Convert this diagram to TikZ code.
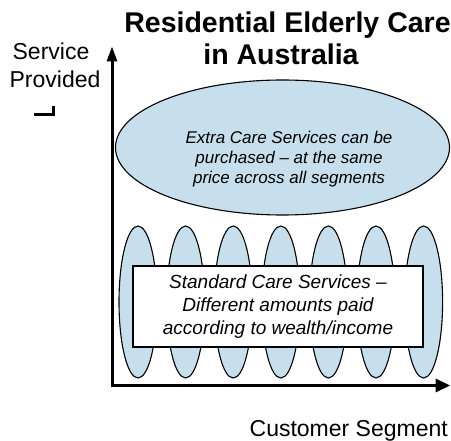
\documentclass[tikz,border=0pt]{standalone}
\usepackage{fontspec}
\setmainfont{Liberation Sans}
\usetikzlibrary{shapes.geometric}
\definecolor{cellblue}{RGB}{199,223,236}
\begin{document}
\begin{tikzpicture}[x=1pt,y=-1pt,
  axisline/.style={line width=3pt},
  tiphead/.style={fill=black},
  segell/.style={ellipse,draw=black,line width=1.1pt,fill=cellblue,minimum width=38pt,minimum height=152pt,inner sep=0pt},
  bigell/.style={ellipse,draw=black,line width=1.1pt,fill=cellblue,minimum width=334pt,minimum height=135pt,inner sep=0pt},
  stdbox/.style={draw=black,line width=1.1pt,fill=white,minimum width=290pt,minimum height=81pt,inner sep=0pt,align=center,font=\itshape\fontsize{19}{22.7}\selectfont},
  ellipsetext/.style={inner sep=0pt,align=center,font=\itshape\fontsize{17}{20.2}\selectfont},
  titletext/.style={inner sep=0pt,anchor=base,font=\bfseries\fontsize{28.5}{32}\selectfont},
  axislabel/.style={inner sep=0pt,anchor=base,font=\fontsize{23}{28}\selectfont}]
\useasboundingbox (0,0) rectangle (451,441);
% title
\node[titletext] (title1) at (287.5,33) {Residential Elderly Care};
\node[titletext] (title2) at (281,65) {in Australia};
% axis labels
\node[axislabel] (ylab1) at (51,60) {Service};
\node[axislabel] (ylab2) at (55,88) {Provided};
\node[axislabel,anchor=base east] (xlab) at (448,437) {Customer Segment};
% bracket mark
\coordinate (brA) at (34,115);
\coordinate (brB) at (53,115);
\coordinate (brC) at (53,106);
\draw[line width=3pt] (brA) -- (brB) -- (brC);
% big ellipse
\node[bigell] (extra) at (282.5,147.5) {};
\node[ellipsetext] (extratext) at (289,159) {Extra Care Services can be\\purchased -- at the same\\price across all segments};
% segment ellipses
\foreach \i in {1,...,7}
  \node[segell] (seg\i) at ({138+47.6*(\i-1)},302) {};
% standard box
\node[stdbox] (std) at (278,306.5) {Standard Care Services --\\Different amounts paid\\according to wealth/income};
% axes
\coordinate (ytip) at (112,47);
\coordinate (ybase) at (112,60);
\coordinate (origin) at (112,385.5);
\coordinate (xtip) at (450,385.5);
\coordinate (xbase) at (437,385.5);
\draw[axisline,line join=miter] (ybase) -- (origin) -- (xbase);
\fill[tiphead] (ytip) -- ++(-5.5,14.5) -- ++(11,0) -- cycle;
\fill[tiphead] (xtip) -- ++(-14.5,-7) -- ++(0,14) -- cycle;
\end{tikzpicture}
\end{document}
